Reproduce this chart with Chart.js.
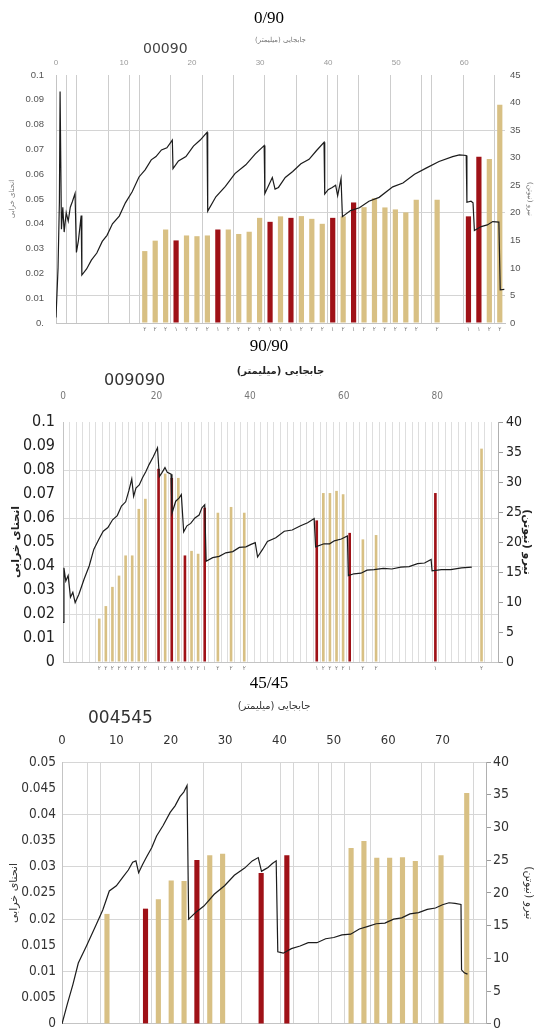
<!DOCTYPE html>
<html lang="fa">
<head>
<meta charset="utf-8">
<title>0/90 - 90/90 - 45/45</title>
<script src="https://cdn.jsdelivr.net/npm/chart.js@4.4.1/dist/chart.umd.min.js"></script>
<style>
  html, body { margin: 0; padding: 0; background: #fff; }
  #page { position: relative; width: 538px; height: 1032px; overflow: hidden; }
  #page canvas { position: absolute; left: 0; }
  .title { position: absolute; left: 0; width: 538px; text-align: center; font: 17px "Liberation Serif", serif; line-height: 20px; color: #000; }
  .code { position: absolute; font-family: "DejaVu Sans", sans-serif; line-height: 1; color: #333; }
</style>
</head>
<body>
<div id="page">
  <canvas id="c1" width="538" height="342" style="top:0"></canvas>
  <canvas id="c2" width="538" height="340" style="top:340px"></canvas>
  <canvas id="c3" width="538" height="368" style="top:670px"></canvas>
  <div class="title" style="top:8px">0/90</div>
  <div class="code" style="left:143px;top:41px;font-size:14px;color:#444">00090</div>
  <div class="title" style="top:336px">90/90</div>
  <div class="code" style="left:104px;top:372px;font-size:16px">009090</div>
  <div class="title" style="top:673px">45/45</div>
  <div class="code" style="left:88px;top:709px;font-size:17px">004545</div>
</div>
<script>
// ---- 0/90 ----
const p1Labels = [
  '', '', '', '', '', '', '', '', '۲', '۲',
  '۲', '۱', '۲', '۲', '۲', '۱', '۲', '۲', '۲', '۲',
  '۱', '۲', '۱', '۲', '۲', '۲', '۱', '۲', '۱', '۲',
  '۲', '۲', '۲', '۲', '۲', '', '۲', '', '', '۱',
  '۱', '۲', '۲',
];
const p1Tan = [
  null, null, null, null, null, null, null, null, 0.029, 0.0332,
  0.0377, null, 0.0353, 0.035, 0.0353, null, 0.0377, 0.0359, 0.0368, 0.0424,
  null, 0.043, null, 0.0431, 0.042, 0.04, null, 0.043, null, 0.0467,
  0.0503, 0.0466, 0.0458, 0.0446, 0.0497, null, 0.0497, null, null, null,
  null, 0.0661, 0.088,
];
const p1Red = [
  null, null, null, null, null, null, null, null, null, null,
  null, 0.0333, null, null, null, 0.0377, null, null, null, null,
  0.0408, null, 0.0424, null, null, null, 0.0424, null, 0.0486, null,
  null, null, null, null, null, null, null, null, null, 0.043,
  0.067, null, null,
];
// [displacement mm, force N]
const p1Curve = [
  [0, 1], [0.3, 10], [0.5, 22], [0.6, 42], [0.8, 17], [1.0, 21], [1.2, 16.5], [1.5, 20],
  [1.8, 18.5], [2.1, 21], [2.4, 22], [2.8, 23.5], [3.0, 12.8], [3.3, 15], [3.7, 19.5], [3.8, 8.7],
  [4.5, 9.8], [5.2, 11.4], [6.0, 12.7], [6.8, 14.8], [7.5, 15.9], [8.3, 18.0], [9.3, 19.4],
  [10.2, 21.8], [11.2, 23.8], [12.2, 26.5], [13.1, 27.8], [14.0, 29.6], [14.7, 30.2], [15.5, 31.4],
  [16.3, 31.8], [17.1, 33.2], [17.2, 28], [18.0, 29.4], [19.1, 30.2], [20.2, 32.1], [21.2, 33.2],
  [22.2, 34.6], [22.3, 20.3], [23.5, 22.9], [24.9, 24.8], [26.3, 27.1], [27.9, 28.7], [29.3, 30.7],
  [30.6, 32.2], [30.7, 23.5], [31.2, 24.8], [31.8, 26.4], [32.2, 24.3], [32.7, 24.6], [33.7, 26.4],
  [34.8, 27.5], [36.0, 28.9], [37.2, 29.7], [38.3, 31.3], [39.4, 32.8], [39.5, 23.4], [40.0, 24.2],
  [40.6, 24.6], [41.1, 25], [41.4, 23.1], [41.9, 26.2], [42.1, 19.3], [43.3, 20.4], [44.6, 20.9],
  [46.0, 22.1], [47.5, 22.8], [49.5, 24.7], [51.0, 25.4], [52.7, 27.0], [54.4, 28.1], [56.3, 29.3],
  [58.3, 30.2], [59.3, 30.5], [60.3, 30.4], [60.4, 21.9], [61.0, 22.1], [61.3, 21.8], [61.5, 16.8],
  [62.5, 17.5], [63.4, 17.8], [64.2, 18.4], [65.1, 18.3], [65.3, 6], [65.9, 6.1],
];

// ---- 90/90 ----
const p2Labels = [
  '', '', '', '', '', '۲', '۲', '۲', '۲', '۲',
  '۲', '۲', '۲', '', '۱', '۲', '۱', '۲', '۱', '۲',
  '۲', '۱', '', '۲', '', '۲', '', '۲', '', '',
  '', '', '', '', '', '', '', '', '۱', '۲',
  '۲', '۲', '۲', '۱', '', '۲', '', '۲', '', '',
  '', '', '', '', '', '', '۱', '', '', '',
  '', '', '', '۲', '', '',
];
const p2Tan = [
  null, null, null, null, null, 0.0181, 0.0233, 0.0313, 0.036, 0.0444,
  0.0444, 0.0638, 0.068, null, null, 0.0785, null, 0.0767, null, 0.0463,
  0.0451, null, null, 0.0622, null, 0.0646, null, 0.0622, null, null,
  null, null, null, null, null, null, null, null, null, 0.0704,
  0.0704, 0.0713, 0.0699, null, null, 0.0511, null, 0.0529, null, null,
  null, null, null, null, null, null, null, null, null, null,
  null, null, null, 0.0889, null, null,
];
const p2Red = [
  null, null, null, null, null, null, null, null, null, null,
  null, null, null, null, 0.0805, null, 0.0767, null, 0.0444, null,
  null, 0.0643, null, null, null, null, null, null, null, null,
  null, null, null, null, null, null, null, null, 0.059, null,
  null, null, null, 0.0538, null, null, null, null, null, null,
  null, null, null, null, null, null, 0.0704, null, null, null,
  null, null, null, null, null, null,
];
const p2Curve = [
  [0, 6.6], [0.2, 15.7], [0.6, 13.5], [1.1, 14.4], [1.6, 10.8], [2.1, 11.6], [2.6, 9.9], [3.4, 11.3],
  [4.5, 13.8], [5.6, 16.0], [6.6, 18.8], [7.7, 20.5], [8.6, 21.8], [9.6, 22.4], [10.6, 23.7],
  [11.6, 24.4], [12.5, 26.0], [13.4, 26.7], [14.1, 28.6], [14.7, 30.5], [15.1, 27.6], [15.6, 29],
  [16.3, 29.5], [17.0, 30.7], [17.7, 31.7], [18.4, 32.9], [19.3, 34.2], [20.2, 35.7], [20.6, 30.9],
  [21.2, 31.6], [21.8, 32.4], [22.3, 31.6], [23.1, 31.3], [23.3, 24.8], [24.1, 26.8], [24.8, 27.3],
  [25.3, 27.9], [25.8, 21.7], [26.5, 22.7], [27.3, 23.1], [28.2, 24.0], [29.1, 24.5], [29.7, 25.7],
  [30.3, 26.2], [30.6, 16.8], [32.0, 17.4], [33.4, 17.6], [34.8, 18.2], [36.3, 18.4], [37.7, 19.1],
  [39.1, 19.2], [40.2, 19.6], [41.1, 19.9], [41.6, 17.5], [42.7, 18.8], [43.7, 20.1], [45.5, 20.7],
  [47.3, 21.8], [49.0, 22.0], [50.8, 22.7], [52.3, 23.2], [53.7, 23.9], [54.0, 19.2], [55.8, 19.7],
  [57.0, 19.7], [58.0, 20.2], [59.5, 20.5], [60.8, 21], [61.0, 14.4], [62.2, 14.7], [63.7, 14.8],
  [65.0, 15.3], [66.5, 15.4], [68.5, 15.6], [70.3, 15.5], [72.2, 15.8], [74.0, 15.9], [75.8, 16.4],
  [77.3, 16.5], [78.7, 17.1], [78.9, 15.2], [80.9, 15.4], [82.9, 15.4], [85.2, 15.7], [87.4, 15.8],
];

// ---- 45/45 ----
const p3Labels = [
  '', '', '', '۲', '', '', '۱', '۲', '۲', '۲',
  '۱', '۲', '۲', '', '', '۱', '', '۱', '', '',
  '', '', '۲', '۲', '۲', '۲', '۲', '۲', '', '۲',
  '', '۲', '',
];
const p3Tan = [
  null, null, null, 0.021, null, null, null, 0.0238, 0.0274, 0.0273,
  null, 0.0322, 0.0325, null, null, null, null, null, null, null,
  null, null, 0.0336, 0.0349, 0.0317, 0.0317, 0.0318, 0.0311, null, 0.0322,
  null, 0.0441, null,
];
const p3Red = [
  null, null, null, null, null, null, 0.022, null, null, null,
  0.0313, null, null, null, null, 0.0288, null, 0.0322, null, null,
  null, null, null, null, null, null, null, null, null, null,
  null, null, null,
];
const p3Curve = [
  [0, 0], [1.0, 3.1], [2.0, 6.0], [3.0, 9.3], [4.5, 11.9], [6.2, 15.0], [7.5, 17.4], [8.7, 20.3],
  [10.0, 21.1], [11.2, 22.4], [12.2, 23.5], [13.0, 24.7], [13.6, 24.9], [14.1, 23.1], [14.8, 24.3],
  [15.5, 25.4], [16.5, 26.9], [17.4, 28.7], [18.6, 30.3], [19.9, 32.3], [20.8, 33.3], [21.7, 34.7],
  [22.4, 35.4], [23.0, 36.4], [23.3, 16], [24.7, 17.1], [26.1, 18.0], [28.0, 19.8], [29.9, 21.1],
  [31.7, 22.7], [33.6, 23.8], [35.0, 24.9], [36.1, 25.4], [36.7, 23.3], [37.3, 23.6], [37.9, 23.9],
  [38.7, 24.5], [39.4, 24.9], [39.7, 11], [40.7, 10.8], [42.2, 11.5], [43.8, 11.9], [45.3, 12.4],
  [46.9, 12.4], [48.5, 13.0], [50.0, 13.2], [51.5, 13.6], [53.1, 13.7], [54.7, 14.5], [56.3, 14.9],
  [57.8, 15.3], [59.4, 15.4], [61.0, 16.0], [62.5, 16.2], [64.0, 16.8], [65.6, 17.0], [67.2, 17.5],
  [68.7, 17.7], [70.0, 18.2], [71.2, 18.5], [72.3, 18.4], [73.4, 18.25], [73.5, 8.25], [74.0, 7.8],
  [74.6, 7.6],
];

const TAN = '#d8c084';
const RED = '#9f1117';
const SANS = '"DejaVu Sans", sans-serif';
const NARROW = '"DejaVu Sans Condensed", "Liberation Sans Narrow", "DejaVu Sans", sans-serif';
const NONE = 'rgba(0,0,0,0)';

const panelBuilder = {
  /**
   * @param {Object} p
   * @param {HTMLCanvasElement} p.el
   * @param {Array.<String>} p.labels
   * @param {Array.<Number>} p.tan
   * @param {Array.<Number>} p.red
   * @param {Array.<Array.<Number>>} p.curve
   * @param {Object} p.look
   * @returns {Chart}
   */
  build({ el, labels, tan, red, curve, look }) {
    const L = look;
    const fixed = (size) => (scale) => {
      if (scale.isHorizontal()) scale.height = size;
      else scale.width = size;
    };
    const near = (list, ctx) => ctx.tick && list.some((v) => Math.abs(ctx.tick.value - v) < 1e-9);
    const bar = { grouped: false, categoryPercentage: 1, barPercentage: L.barPct, xAxisID: 'x', yAxisID: 'y' };

    return new Chart(el, {
      type: 'bar',
      data: {
        labels,
        datasets: [
          {
            type: 'line',
            data: curve.map(([x, y]) => ({ x, y })),
            xAxisID: 'x2',
            yAxisID: 'y2',
            borderColor: '#1c1c1c',
            borderWidth: 1.2,
            pointRadius: 0,
            order: 0,
          },
          { ...bar, data: red, backgroundColor: RED, order: 1 },
          { ...bar, data: tan, backgroundColor: TAN, order: 2 },
        ],
      },
      options: {
        responsive: false,
        animation: false,
        events: [],
        layout: { padding: { top: L.padTop, right: 0, bottom: 0, left: 0 } },
        plugins: { legend: { display: false }, tooltip: { enabled: false } },
        scales: {
          x: {
            type: 'category',
            position: 'bottom',
            afterFit: fixed(L.bottomH),
            grid: {
              offset: true,
              drawTicks: false,
              color: (c) => (L.vGrid === null || L.vGrid.includes(c.index) ? L.vColor : NONE),
            },
            border: { display: true, color: '#c4c4c4' },
            ticks: {
              display: L.catTicks,
              autoSkip: false,
              maxRotation: 0,
              padding: 3,
              color: '#777',
              font: { family: SANS, size: 6 },
            },
          },
          x2: {
            type: 'linear',
            position: 'top',
            offset: false,
            min: 0,
            max: L.dispMax,
            afterFit: fixed(L.topH),
            afterBuildTicks: (s) => {
              s.ticks = s.ticks.filter((t) => Math.abs(t.value / L.dispStep - Math.round(t.value / L.dispStep)) < 1e-6);
            },
            grid: { display: false, offset: false, drawTicks: false },
            border: { display: false },
            ticks: {
              stepSize: L.dispStep,
              padding: L.topPad,
              color: L.topColor,
              font: { family: L.topFamily, size: L.topSize },
            },
            title: {
              display: true,
              text: 'جابجایی (میلیمتر)',
              color: L.titleColor,
              padding: { top: L.topTitlePad, bottom: 0 },
              font: { family: SANS, size: L.topTitleSize, weight: L.titleWeight },
            },
          },
          y: {
            position: 'left',
            min: 0,
            max: L.leftMax,
            afterFit: fixed(L.leftW),
            grid: { drawTicks: false, color: (c) => (near(L.hLeft, c) ? L.hColor : NONE) },
            border: { display: true, color: '#c4c4c4' },
            ticks: {
              stepSize: L.leftStep,
              padding: L.leftPad,
              color: L.tickColor,
              font: { family: L.family, size: L.leftSize },
              callback: (v) => (v === 0 ? L.zero : String(+v.toFixed(4))),
            },
            title: {
              display: true,
              text: 'انحنای خرابی',
              color: L.titleColor,
              padding: { top: L.leftTitlePad, bottom: 0 },
              font: { family: SANS, size: L.sideTitleSize, weight: L.titleWeight },
            },
          },
          y2: {
            position: 'right',
            min: 0,
            max: L.rightMax,
            afterFit: fixed(L.rightW),
            grid: {
              drawOnChartArea: L.hRight.length > 0,
              drawTicks: L.rightTicks,
              tickLength: 5,
              tickColor: '#9a9a9a',
              color: (c) => (near(L.hRight, c) ? L.hColor : NONE),
            },
            border: { display: L.rightTicks, color: '#b0b0b0' },
            ticks: {
              stepSize: 5,
              padding: L.rightPad,
              color: L.tickColor,
              font: { family: L.family, size: L.rightSize },
            },
            title: {
              display: true,
              text: 'نیرو (نیوتن)',
              color: L.titleColor,
              padding: { top: L.rightTitlePad, bottom: 0 },
              font: { family: SANS, size: L.sideTitleSize, weight: L.titleWeight },
            },
          },
        },
      },
    });
  },
};

panelBuilder.build({
  el: document.getElementById('c1'),
  labels: p1Labels,
  tan: p1Tan,
  red: p1Red,
  curve: p1Curve,
  look: {
    padTop: 33, topH: 42, bottomH: 19, leftW: 56, rightW: 33,
    barPct: 0.5, catTicks: true,
    vGrid: [1, 2, 5, 7, 8, 11, 14, 17, 20, 23, 26, 27, 29, 32, 35, 36, 39, 42], vColor: '#cdcdcd',
    hLeft: [], hRight: [5, 20, 35], hColor: '#d4d4d4', rightTicks: false,
    dispMax: 66, dispStep: 10,
    topPad: 7, topColor: '#9a9a9a', topFamily: '"Liberation Sans", sans-serif', topSize: 8,
    topTitleSize: 7, topTitlePad: 3, titleColor: '#777', titleWeight: 'normal',
    leftMax: 0.1, leftStep: 0.01, zero: '0.', rightMax: 45,
    family: '"Liberation Sans", sans-serif', tickColor: '#555', leftSize: 9.5, rightSize: 9.5,
    leftPad: 12, rightPad: 5, sideTitleSize: 7, leftTitlePad: 8, rightTitlePad: 4,
  },
});

panelBuilder.build({
  el: document.getElementById('c2'),
  labels: p2Labels,
  tan: p2Tan,
  red: p2Red,
  curve: p2Curve,
  look: {
    padTop: 25, topH: 57, bottomH: 18, leftW: 63, rightW: 40,
    barPct: 0.4, catTicks: true,
    vGrid: null, vColor: '#dedede',
    hLeft: [0.02, 0.04, 0.06, 0.08], hRight: [], hColor: '#dadada', rightTicks: true,
    dispMax: 93, dispStep: 20,
    topPad: 20, topColor: '#777', topFamily: NARROW, topSize: 10,
    topTitleSize: 10, topTitlePad: 0, titleColor: '#222', titleWeight: 'bold',
    leftMax: 0.1, leftStep: 0.01, zero: '0', rightMax: 40,
    family: NARROW, tickColor: '#222', leftSize: 16, rightSize: 14,
    leftPad: 8, rightPad: 3, sideTitleSize: 11, leftTitlePad: 10, rightTitlePad: 5,
  },
});

panelBuilder.build({
  el: document.getElementById('c3'),
  labels: p3Labels,
  tan: p3Tan,
  red: p3Red,
  curve: p3Curve,
  look: {
    padTop: 30, topH: 62, bottomH: 14, leftW: 62, rightW: 52,
    barPct: 0.4, catTicks: false,
    vGrid: [2, 3, 6, 7, 11, 14, 17, 18, 20, 21, 22, 24, 28, 29, 32], vColor: '#d6d6d6',
    hLeft: [0.01, 0.02, 0.03, 0.04, 0.05], hRight: [], hColor: '#d6d6d6', rightTicks: true,
    dispMax: 78, dispStep: 10,
    topPad: 14, topColor: '#333', topFamily: NARROW, topSize: 13,
    topTitleSize: 10, topTitlePad: 0, titleColor: '#333', titleWeight: 'normal',
    leftMax: 0.05, leftStep: 0.005, zero: '0', rightMax: 40,
    family: NARROW, tickColor: '#333', leftSize: 13.5, rightSize: 14,
    leftPad: 6, rightPad: 2, sideTitleSize: 11, leftTitlePad: 8, rightTitlePad: 3,
  },
});
</script>
</body>
</html>
